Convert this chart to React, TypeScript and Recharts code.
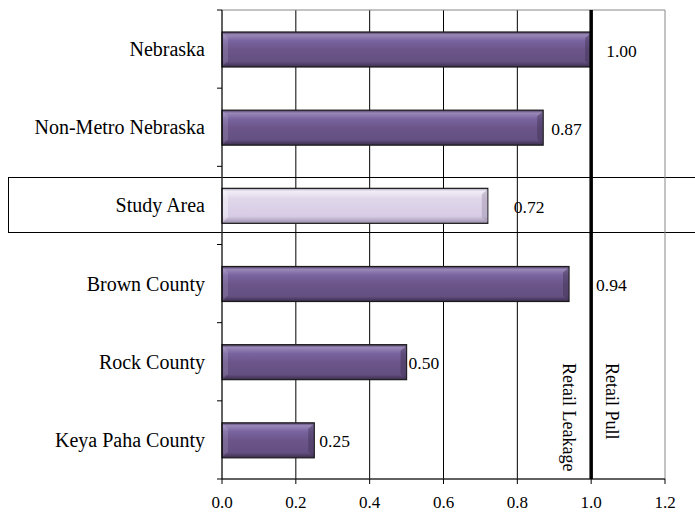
import {
  Bar,
  BarChart,
  CartesianGrid,
  Cell,
  LabelList,
  ReferenceArea,
  ReferenceLine,
  XAxis,
  YAxis,
} from 'recharts'

const categories = [
  'Nebraska',
  'Non-Metro Nebraska',
  'Study Area',
  'Brown County',
  'Rock County',
  'Keya Paha County',
]
const pullFactors = [1.0, 0.87, 0.72, 0.94, 0.5, 0.25]
const xTicks = [0, 0.2, 0.4, 0.6, 0.8, 1.0, 1.2]
const highlighted = 'Study Area'

// Excel placed the value labels a bit unevenly; nudge (px) per bar
const LABEL_NUDGE = [15, 8, 26, 27, 2, 5]

const W = 695
const H = 516
const MARGIN = { top: 10, right: 30, bottom: 0, left: 0 }
const X_AXIS_H = 37
const Y_AXIS_W = 222
const PLOT_H = H - MARGIN.top - MARGIN.bottom - X_AXIS_H
const STEP = PLOT_H / categories.length
const FONT = "'Liberation Serif', 'Times New Roman', serif"

const data = categories.map((name, i) => ({ name, value: pullFactors[i] }))

function BevelBar(props: any) {
  const { x, y, width, height, payload } = props
  if (!width || width <= 0) return null
  const light = payload?.name === highlighted
  const b = 6
  return (
    <g>
      <rect
        x={x}
        y={y}
        width={width}
        height={height}
        fill={light ? 'url(#barLight)' : 'url(#barPurple)'}
        stroke="#1a1a1a"
        strokeWidth={1.2}
      />
      <polygon
        points={`${x + width - b},${y + b} ${x + width},${y + 1} ${x + width},${y + height - 1} ${x + width - b},${y + height - b}`}
        fill={light ? '#9b8fab' : '#3e3152'}
        opacity={0.45}
      />
      <polygon
        points={`${x + 1},${y + 1} ${x + b},${y + b} ${x + b},${y + height - b} ${x + 1},${y + height - 1}`}
        fill="#ffffff"
        opacity={light ? 0.35 : 0.12}
      />
    </g>
  )
}

function CategoryTick(props: any) {
  const { x, y, payload, index } = props
  const ax = x + 17
  return (
    <g>
      <text
        x={x}
        y={y}
        textAnchor="end"
        dominantBaseline="central"
        fontFamily={FONT}
        fontSize={20}
        fill="#000"
      >
        {payload.value}
      </text>
      <line x1={ax - 5} x2={ax} y1={y - STEP / 2} y2={y - STEP / 2} stroke="#000" />
      {index === categories.length - 1 && (
        <line x1={ax - 5} x2={ax} y1={y + STEP / 2} y2={y + STEP / 2} stroke="#000" />
      )}
    </g>
  )
}

function ValueLabel(props: any) {
  const { x, y, width, height, value, index } = props
  return (
    <text
      x={x + width + (LABEL_NUDGE[index] ?? 8)}
      y={y + height / 2 + 1}
      textAnchor="start"
      dominantBaseline="central"
      fontFamily={FONT}
      fontSize={17.5}
      fill="#000"
    >
      {Number(value).toFixed(2)}
    </text>
  )
}

function ZoneLabels(props: any) {
  const { viewBox } = props
  const lx = viewBox.x
  const ty = viewBox.y + viewBox.height - 116
  const common = {
    fontFamily: FONT,
    fontSize: 18,
    fill: '#000',
    dominantBaseline: 'central' as const,
    textAnchor: 'start' as const,
  }
  return (
    <g>
      <text {...common} x={lx - 22} y={ty} transform={`rotate(90 ${lx - 22} ${ty})`}>
        Retail Leakage
      </text>
      <text {...common} x={lx + 21} y={ty} transform={`rotate(90 ${lx + 21} ${ty})`}>
        Retail Pull
      </text>
    </g>
  )
}

export default function App() {
  const boxH = 56
  const boxTop = MARGIN.top + 2 * STEP + (STEP - boxH) / 2

  return (
    <div style={{ position: 'absolute', left: 0, top: 0, width: W, height: H, background: '#fff', overflow: 'hidden' }}>
      <div
        style={{
          position: 'absolute',
          left: 8,
          top: boxTop,
          width: W - 8,
          height: boxH,
          boxSizing: 'border-box',
          border: '1px solid #000',
          borderRight: 'none',
          background: '#fff',
        }}
      />
      <div style={{ position: 'absolute', left: 0, top: 0 }}>
        <BarChart width={W} height={H} data={data} layout="vertical" margin={MARGIN} barSize={35}>
          <defs>
            <linearGradient id="barPurple" x1="0" y1="0" x2="0" y2="1">
              <stop offset="0" stopColor="#4a3b60" />
              <stop offset="0.08" stopColor="#9a88b8" />
              <stop offset="0.25" stopColor="#7a64a0" />
              <stop offset="0.5" stopColor="#6b5589" />
              <stop offset="0.85" stopColor="#655082" />
              <stop offset="1" stopColor="#3a2d4c" />
            </linearGradient>
            <linearGradient id="barLight" x1="0" y1="0" x2="0" y2="1">
              <stop offset="0" stopColor="#a89cb8" />
              <stop offset="0.08" stopColor="#f2eef7" />
              <stop offset="0.3" stopColor="#e0d7ea" />
              <stop offset="0.8" stopColor="#d7cce4" />
              <stop offset="1" stopColor="#9c8fad" />
            </linearGradient>
          </defs>
          <ReferenceArea x1={0} x2={1.2} fill="none" stroke="#888" strokeWidth={1} />
          <CartesianGrid
            horizontal={false}
            verticalValues={[0.2, 0.4, 0.6, 0.8]}
            stroke="#000"
            strokeWidth={1}
          />
          <XAxis
            type="number"
            domain={[0, 1.2]}
            ticks={xTicks}
            height={X_AXIS_H}
            tickFormatter={(v: number) => v.toFixed(1)}
            axisLine={{ stroke: '#000' }}
            tickLine={{ stroke: '#000' }}
            tickSize={5}
            tickMargin={12}
            tick={{ fill: '#000', fontSize: 17, fontFamily: FONT }}
          />
          <YAxis
            type="category"
            dataKey="name"
            width={Y_AXIS_W}
            axisLine={{ stroke: '#000' }}
            tickLine={false}
            tickSize={0}
            tickMargin={17}
            tick={<CategoryTick />}
            interval={0}
          />
          <Bar dataKey="value" shape={<BevelBar />} isAnimationActive={false}>
            {data.map((d) => (
              <Cell key={d.name} fill={d.name === highlighted ? '#d9cfe6' : '#6b5589'} />
            ))}
            <LabelList dataKey="value" content={<ValueLabel />} />
          </Bar>
          <ReferenceLine x={1} stroke="#000" strokeWidth={3.5} label={<ZoneLabels />} />
        </BarChart>
      </div>
    </div>
  )
}
